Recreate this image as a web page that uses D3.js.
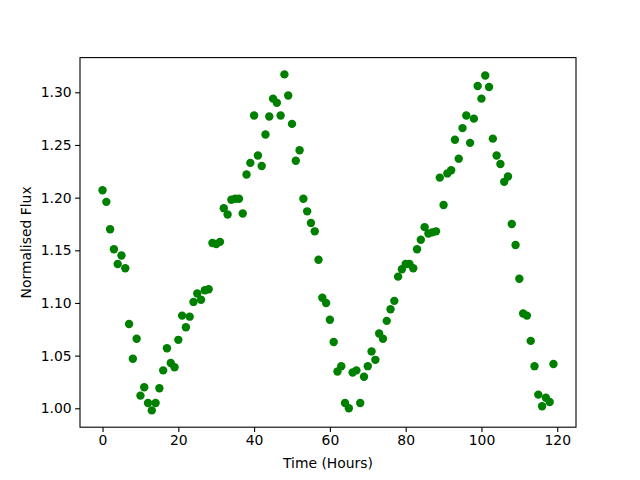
<!DOCTYPE html>
<html>
<head>
<meta charset="utf-8">
<script src="https://cdn.jsdelivr.net/npm/d3@7"></script>
<style>
  html, body { margin: 0; padding: 0; background: #fff; }
  svg { display: block; font-family: "DejaVu Sans", sans-serif; }
</style>
</head>
<body>
<div id="chart"></div>
<script>
// hours 0..119, one reading per hour
const hours = d3.range(0, 120);
const flux = [
  1.207, 1.196, 1.170, 1.151, 1.137, 1.145, 1.133, 1.080, 1.047, 1.066,
  1.012, 1.020, 1.005, 0.998, 1.005, 1.019, 1.036, 1.057, 1.043, 1.039,
  1.065, 1.088, 1.077, 1.087, 1.101, 1.109, 1.103, 1.112, 1.113, 1.157,
  1.156, 1.158, 1.190, 1.184, 1.198, 1.199, 1.199, 1.185, 1.222, 1.233,
  1.278, 1.240, 1.230, 1.260, 1.277, 1.294, 1.290, 1.278, 1.317, 1.297,
  1.270, 1.235, 1.245, 1.199, 1.187, 1.176, 1.168, 1.141, 1.105, 1.100,
  1.084, 1.063, 1.035, 1.040, 1.005, 1.000, 1.034, 1.036, 1.005, 1.030,
  1.040, 1.054, 1.046, 1.071, 1.066, 1.083, 1.094, 1.102, 1.125, 1.132,
  1.137, 1.137, 1.133, 1.151, 1.160, 1.172, 1.166, 1.167, 1.168, 1.219,
  1.193, 1.223, 1.226, 1.255, 1.237, 1.266, 1.278, 1.252, 1.275, 1.306,
  1.294, 1.316, 1.305, 1.256, 1.240, 1.232, 1.215, 1.220, 1.175, 1.155,
  1.123, 1.090, 1.088, 1.064, 1.040, 1.013, 1.002, 1.010, 1.006, 1.042
];
const xTicks = [0, 20, 40, 60, 80, 100, 120];
const yTicks = [1.00, 1.05, 1.10, 1.15, 1.20, 1.25, 1.30];

const W = 640, H = 480;
const m = {left: 80, right: 64, top: 57.6, bottom: 52.8};

// matplotlib style 5% padding around the data
function padded(ext) {
  const p = (ext[1] - ext[0]) * 0.05;
  return [ext[0] - p, ext[1] + p];
}

const x = d3.scaleLinear().domain(padded(d3.extent(hours))).range([m.left, W - m.right]);
const y = d3.scaleLinear().domain(padded(d3.extent(flux))).range([H - m.bottom, m.top]);

const svg = d3.select('#chart').append('svg').attr('width', W).attr('height', H);

svg.append('g')
  .selectAll('circle').data(hours).join('circle')
  .attr('cx', d => x(d)).attr('cy', (d, i) => y(flux[i]))
  .attr('r', 4.2).attr('fill', '#008000');

const xAxis = svg.append('g').attr('transform', `translate(0,${H - m.bottom})`)
  .call(d3.axisBottom(x).tickValues(xTicks).tickSize(4.9).tickPadding(3.5).tickFormat(d3.format('d')));
const yAxis = svg.append('g').attr('transform', `translate(${m.left},0)`)
  .call(d3.axisLeft(y).tickValues(yTicks).tickSize(4.9).tickPadding(3.5).tickFormat(d3.format('.2f')));

[xAxis, yAxis].forEach(g => {
  g.select('.domain').remove();
  g.selectAll('.tick line').attr('stroke', '#000').attr('stroke-width', 1.1);
  g.selectAll('.tick text').attr('font-size', '13.9px').attr('fill', '#000')
    .attr('font-family', '"DejaVu Sans", sans-serif');
});

svg.append('rect')
  .attr('x', m.left).attr('y', m.top)
  .attr('width', W - m.left - m.right).attr('height', H - m.top - m.bottom)
  .attr('fill', 'none').attr('stroke', '#000').attr('stroke-width', 1.1);

svg.append('text')
  .attr('x', m.left + (W - m.left - m.right) / 2).attr('y', 468)
  .attr('text-anchor', 'middle').attr('font-size', '13.9px').attr('fill', '#000')
  .text('Time (Hours)');

svg.append('text')
  .attr('transform', `translate(31,${m.top + (H - m.top - m.bottom) / 2}) rotate(-90)`)
  .attr('text-anchor', 'middle').attr('font-size', '13.9px').attr('fill', '#000')
  .text('Normalised Flux');
</script>
</body>
</html>
